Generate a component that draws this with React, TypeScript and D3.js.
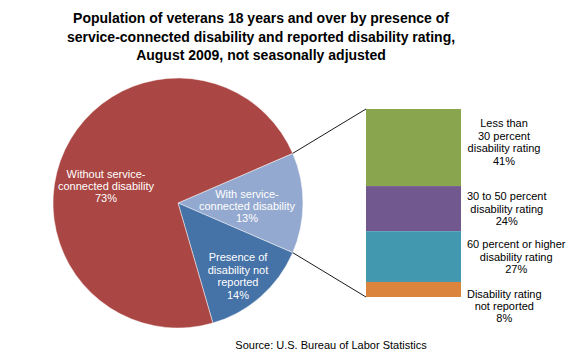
import React from "react";
import * as d3 from "d3";

const titleLines = [
  "Population of veterans 18 years and over by presence of",
  "service-connected disability and reported disability rating,",
  "August 2009, not seasonally adjusted",
];
const sourceText = "Source: U.S. Bureau of Labor Statistics";

const pieNames = [
  ["With service-", "connected disability"],
  ["Presence of", "disability not", "reported"],
  ["Without service-", "connected disability"],
];
const pieValues = [13, 14, 73];
const pieColors = ["#94A9CF", "#4572A7", "#AA4643"];

const barNames = [
  ["Less than", "30 percent", "disability rating"],
  ["30 to 50 percent", "disability rating"],
  ["60 percent or higher", "disability rating"],
  ["Disability rating", "not reported"],
];
const barValues = [41, 24, 27, 8];
const barColors = ["#89A54E", "#71588F", "#4198AF", "#DB843D"];

// layout (not data)
const W = 580, H = 360;
const cx = 178, cy = 203, R = 125;
const pieLabelOffsets = [[69, 3], [60, 73], [-72, -17]];
const barX0 = 366, barX1 = 461, barTop = 109, barBottom = 297;
const barLabelX = 504;
const barLabelMinLeft = 467;
const barLabelShift = [-5.5, 0, 0, 16.5];
const LH = 12.4;
const FONT = "'Liberation Sans', Arial, sans-serif";

let ctx: CanvasRenderingContext2D | null = null;
function measure(s: string, size = 11) {
  if (typeof document === "undefined") return s.length * size * 0.5;
  if (!ctx) ctx = document.createElement("canvas").getContext("2d");
  if (!ctx) return s.length * size * 0.5;
  ctx.font = `${size}px ${FONT}`;
  return ctx.measureText(s).width;
}

function MultiLine({ x, yc, lines, fill, size = 11 }: { x: number; yc: number; lines: string[]; fill: string; size?: number }) {
  const first = yc - ((lines.length - 1) * LH) / 2 + 4;
  return (
    <text x={x} y={first} textAnchor="middle" fill={fill} fontSize={size} fontFamily={FONT}>
      {lines.map((l, i) => (
        <tspan key={i} x={x} y={first + i * LH}>{l}</tspan>
      ))}
    </text>
  );
}

export default function App() {
  const total = d3.sum(pieValues);
  const startDeg = 90 - (pieValues[0] / total) * 180;
  const pie = d3
    .pie<number>()
    .sort(null)
    .startAngle((startDeg * Math.PI) / 180)
    .endAngle((startDeg * Math.PI) / 180 + 2 * Math.PI)(pieValues);
  const arc = d3.arc<d3.PieArcDatum<number>>().innerRadius(0).outerRadius(R);

  const a0 = pie[0].startAngle, a1 = pie[0].endAngle;
  const pt = (a: number) => [cx + R * Math.sin(a), cy - R * Math.cos(a)];
  const [p0x, p0y] = pt(a0);
  const [p1x, p1y] = pt(a1);

  const y = d3.scaleLinear().domain([0, d3.sum(barValues)]).range([barTop, barBottom]);
  let acc = 0;
  const segs = barValues.map((v) => {
    const s = { y0: y(acc), y1: y(acc + v), v };
    acc += v;
    return s;
  });

  return (
    <svg width={W} height={H} style={{ position: "absolute", left: 0, top: 0, background: "#fff" }}>
      <rect width={W} height={H} fill="#fff" />
      {titleLines.map((t, i) => (
        <text key={i} x={261} y={23 + i * 18.5} textAnchor="middle" fontSize={14} fontWeight="bold" fontFamily={FONT} fill="#000">
          {t}
        </text>
      ))}
      <g transform={`translate(${cx},${cy})`}>
        {pie.map((d, i) => (
          <path key={i} d={arc(d) || ""} fill={pieColors[i]} stroke="#fff" strokeWidth={0.8} strokeOpacity={0.6} />
        ))}
      </g>
      {pie.map((d, i) => (
        <MultiLine
          key={i}
          x={cx + pieLabelOffsets[i][0]}
          yc={cy + pieLabelOffsets[i][1]}
          lines={[...pieNames[i], `${pieValues[i]}%`]}
          fill="#fff"
        />
      ))}
      <line x1={p0x} y1={p0y} x2={barX0} y2={y(0)} stroke="#000" strokeWidth={0.9} />
      <line x1={p1x} y1={p1y} x2={barX0} y2={y(d3.sum(barValues))} stroke="#000" strokeWidth={0.9} />
      {segs.map((s, i) => (
        <rect key={i} x={barX0} y={s.y0} width={barX1 - barX0} height={s.y1 - s.y0} fill={barColors[i]} />
      ))}
      {segs.map((s, i) => {
        const lines = [...barNames[i], `${s.v}%`];
        const maxW = d3.max(lines, (l) => measure(l)) || 0;
        const x = Math.max(barLabelX, barLabelMinLeft + maxW / 2);
        return (
          <MultiLine
            key={i}
            x={x}
            yc={(s.y0 + s.y1) / 2 + barLabelShift[i]}
            lines={lines}
            fill="#000"
          />
        );
      })}
      <text x={331} y={349} textAnchor="middle" fontSize={11} fontFamily={FONT} fill="#000">
        {sourceText}
      </text>
    </svg>
  );
}
